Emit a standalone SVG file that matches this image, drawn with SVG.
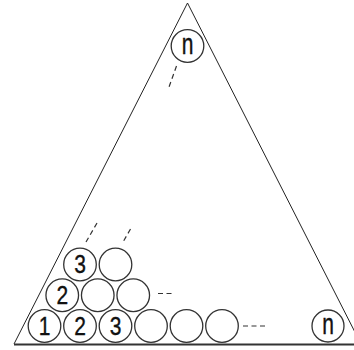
<svg xmlns="http://www.w3.org/2000/svg" width="354" height="350" viewBox="0 0 354 350">
<style>
.tri{fill:none;stroke:#222;stroke-width:1}
.base{stroke:#333;stroke-width:2}
.c{fill:none;stroke:#333;stroke-width:1.3}
.t{font-family:"Liberation Sans",Arial,sans-serif;font-size:21px;fill:#111;text-anchor:middle;stroke:#111;stroke-width:0.3}
.d{stroke:#333;stroke-width:1.2;stroke-dasharray:5 3.5;fill:none}
</style>
<rect width="354" height="350" fill="#fff"/>
<g id="triangle">
<path class="tri" d="M14 344 L187.5 3 L361 344"/>
<line class="base" x1="14" y1="344.5" x2="354" y2="344.5"/>
</g>
<g id="connectors">
<line class="d" x1="176.5" y1="66" x2="169" y2="87"/>
<line class="d" x1="97" y1="223" x2="86" y2="242"/>
<line class="d" x1="130.5" y1="229" x2="123" y2="242"/>
<line class="d" x1="158" y1="293.5" x2="171.5" y2="293.5"/>
<line class="d" x1="243" y1="326" x2="265" y2="326"/>
</g>
<g id="n-top"><circle class="c" cx="187.5" cy="46" r="16.3"/><text class="t" transform="translate(187.5,54) scale(1,1.4)">n</text></g>
<g id="r1c1"><circle class="c" cx="44.5" cy="326" r="16.3"/><text class="t" transform="translate(44.5,334.5) scale(1,1.2)">1</text></g>
<g id="r1c2"><circle class="c" cx="80" cy="326" r="16.3"/><text class="t" transform="translate(80,334.5) scale(1,1.2)">2</text></g>
<g id="r1c3"><circle class="c" cx="115.5" cy="326" r="16.3"/><text class="t" transform="translate(115.5,334.5) scale(1,1.2)">3</text></g>
<g id="r1c4"><circle class="c" cx="151" cy="326" r="16.3"/></g>
<g id="r1c5"><circle class="c" cx="186.5" cy="326" r="16.3"/></g>
<g id="r1c6"><circle class="c" cx="222" cy="326" r="16.3"/></g>
<g id="n-right"><circle class="c" cx="328" cy="326" r="16"/><text class="t" transform="translate(328,334) scale(1,1.4)">n</text></g>
<g id="r2c1"><circle class="c" cx="62.25" cy="295.25" r="16.3"/><text class="t" transform="translate(62.25,303.75) scale(1,1.2)">2</text></g>
<g id="r2c2"><circle class="c" cx="97.75" cy="295.25" r="16.3"/></g>
<g id="r2c3"><circle class="c" cx="133.25" cy="295.25" r="16.3"/></g>
<g id="r3c1"><circle class="c" cx="80" cy="264.5" r="16.3"/><text class="t" transform="translate(80,273) scale(1,1.2)">3</text></g>
<g id="r3c2"><circle class="c" cx="115.5" cy="264.5" r="16.3"/></g>
</svg>
